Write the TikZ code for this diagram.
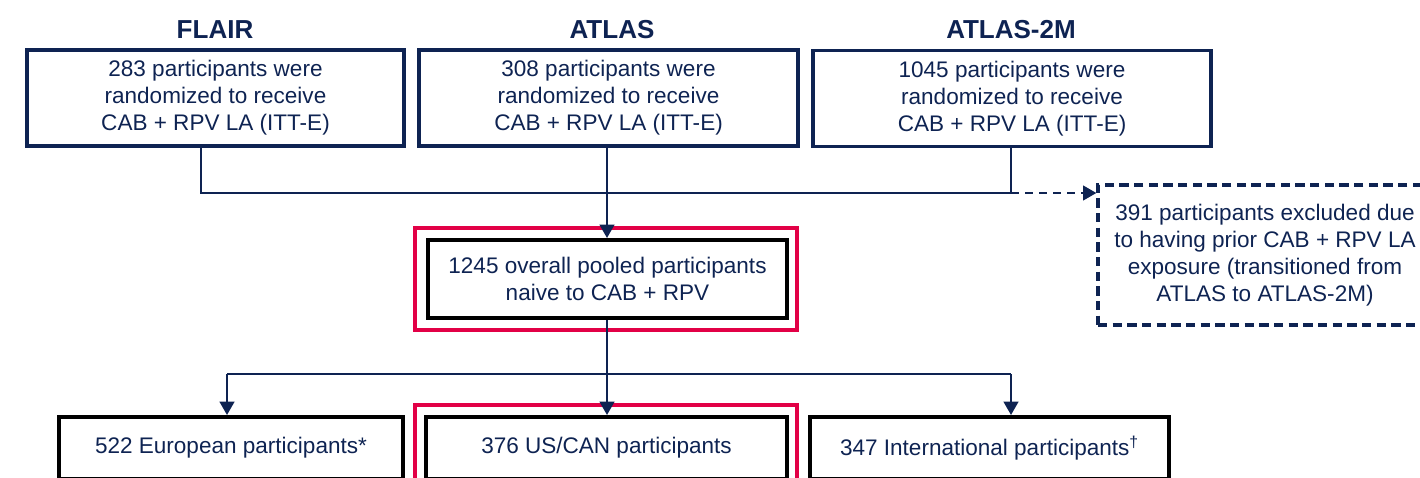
\documentclass[tikz,border=0pt]{standalone}
\usepackage{fontspec}
\setmainfont{Liberation Sans}
\usetikzlibrary{arrows.meta}
\definecolor{navy}{RGB}{14,35,82}
\definecolor{crim}{RGB}{226,0,70}
\begin{document}
\begin{tikzpicture}[x=0.75pt,y=-0.75pt,
  txt/.style={font=\fontsize{16.9}{20.25}\selectfont, text=navy, align=center, inner sep=0pt},
  head/.style={font=\fontsize{19.5}{23}\selectfont\bfseries, text=navy, inner sep=0pt},
  topbox/.style={txt, draw=navy, line width=2.4pt, minimum height=72pt},
  blkbox/.style={txt, draw=black, line width=3pt},
  redbox/.style={draw=crim, line width=2.3pt, inner sep=0pt},
  dbox/.style={txt, draw=navy, line width=2.4pt, dash pattern=on 7pt off 4pt},
  conn/.style={draw=navy, line width=1.6pt},
  arr/.style={conn, -{Triangle[width=11pt,length=10pt]}}]
\useasboundingbox (0,0) rectangle (1420,478);
% headings
\node[head] (hflair) at (215,30) {FLAIR};
\node[head] (hatlas) at (612,30) {ATLAS};
\node[head] (hatlas2) at (1011,30) {ATLAS-2M};
% top boxes
\node[topbox, minimum width=282.75pt] (flair) at (215.5,98) {283 participants were\\randomized to receive\\CAB + RPV LA (ITT-E)};
\node[topbox, minimum width=284.25pt] (atlas) at (608.5,98) {308 participants were\\randomized to receive\\CAB + RPV LA (ITT-E)};
\node[topbox, minimum width=298.5pt] (atlas2) at (1012,98.5) {1045 participants were\\randomized to receive\\CAB + RPV LA (ITT-E)};
% exclusion box
\node[dbox, minimum width=250.5pt, minimum height=105pt] (excl) at (1265,255) {391 participants excluded due\\to having prior CAB + RPV LA\\exposure (transitioned from\\ATLAS to ATLAS-2M)};
% pooled
\node[redbox, minimum width=286.5pt, minimum height=76.5pt] (pool) at (606,279) {};
\node[blkbox, minimum width=269.25pt, minimum height=58.5pt] (poolin) at (607.5,279) {1245 overall pooled participants\\naive to CAB + RPV};
% bottom boxes
\node[blkbox, minimum width=258pt, minimum height=46.5pt] (eur) at (231,448) {522 European participants*};
\node[redbox, minimum width=286.5pt, minimum height=64.5pt] (usred) at (606,448) {};
\node[blkbox, minimum width=270.75pt, minimum height=46.5pt] (us) at (606.5,448) {376 US/CAN participants};
\node[blkbox, minimum width=269.25pt, minimum height=46.5pt] (intl) at (989.5,448) {347 International participants\textsuperscript{†}};
% junctions
\coordinate (j1) at (201,193);
\coordinate (j3) at (1011,193);
\coordinate (k0) at (607,374);
\coordinate (k1) at (227,374);
\coordinate (k3) at (1011,374);
% connectors
\draw[conn] (flair.south -| j1) -- (j1) -- (j3) -- (atlas2.south -| j3);
\draw[arr] (atlas.south -| 607,0) -- (poolin.north -| 607,0);
\draw[conn, dash pattern=on 6pt off 4.5pt, -{Triangle[width=11pt,length=10pt]}] (j3) -- (j3 -| excl.west);
\draw[conn] (poolin.south -| k0) -- (k0);
\draw[conn] (k1) -- (k3);
\draw[arr] (k1) -- (k1 |- eur.north);
\draw[arr] (k0) -- (k0 |- us.north);
\draw[arr] (k3) -- (k3 |- intl.north);
\end{tikzpicture}
\end{document}
